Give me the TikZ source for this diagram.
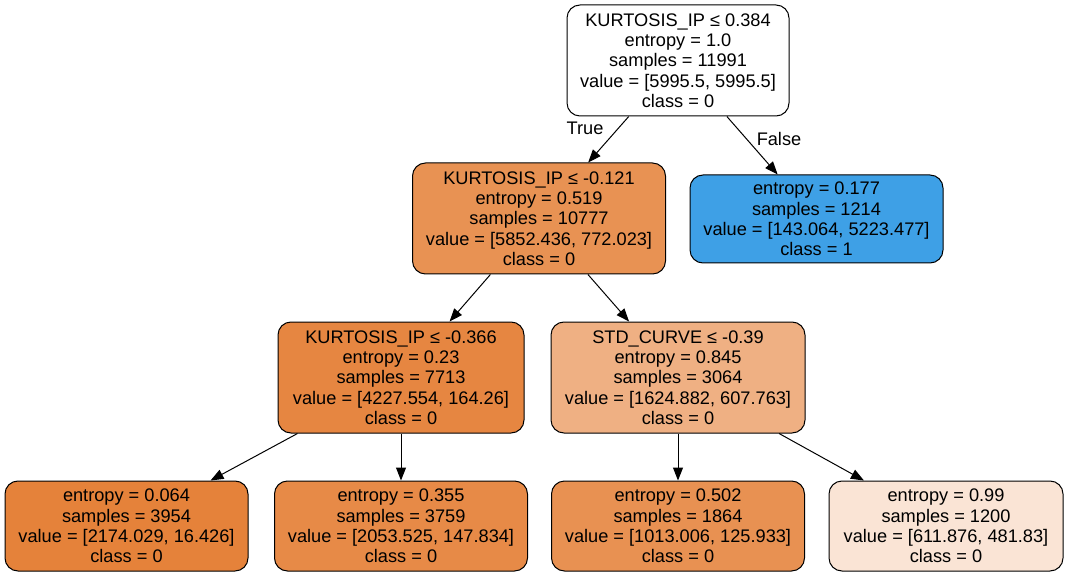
\documentclass[tikz,border=0pt]{standalone}
\usepackage{fontspec}
\setmainfont{Liberation Sans}
\usetikzlibrary{arrows.meta}
\definecolor{cRoot}{RGB}{255,255,255}
\definecolor{cA}{RGB}{232,146,83}
\definecolor{cB}{RGB}{62,160,230}
\definecolor{cC}{RGB}{230,134,65}
\definecolor{cD}{RGB}{239,176,131}
\definecolor{cE}{RGB}{229,130,58}
\definecolor{cF}{RGB}{231,138,71}
\definecolor{cG}{RGB}{232,145,82}
\definecolor{cH}{RGB}{250,228,213}
\tikzset{
  treenode/.style={draw=black, line width=1pt, rounded corners=13pt, align=center,
    inner sep=0pt, font=\fontsize{18.2}{20.3}\selectfont},
  split/.style={treenode, minimum height=111pt},
  leaf/.style={treenode, minimum height=90pt},
  edge/.style={line width=1pt, -{Triangle[length=13pt,width=10pt]}},
  elabel/.style={font=\fontsize{18.2}{20.3}\selectfont, inner sep=0pt}
}
\begin{document}
\begin{tikzpicture}[x=1pt,y=-1pt]
\useasboundingbox (0,0) rectangle (1068,577);
\node[split, fill=cRoot, minimum width=222pt] (n0) at (678,60.5)
  {KURTOSIS\_IP ≤ 0.384\\entropy = 1.0\\samples = 11991\\value = [5995.5, 5995.5]\\class = 0};
\node[split, fill=cA, minimum width=253pt] (n1) at (539,218.5)
  {KURTOSIS\_IP ≤ -0.121\\entropy = 0.519\\samples = 10777\\value = [5852.436, 772.023]\\class = 0};
\node[leaf, fill=cB, minimum width=253pt, minimum height=88pt] (n2) at (816.5,219)
  {entropy = 0.177\\samples = 1214\\value = [143.064, 5223.477]\\class = 1};
\node[split, fill=cC, minimum width=246pt] (n3) at (401,377.5)
  {KURTOSIS\_IP ≤ -0.366\\entropy = 0.23\\samples = 7713\\value = [4227.554, 164.26]\\class = 0};
\node[split, fill=cD, minimum width=254pt] (n4) at (678,377.5)
  {STD\_CURVE ≤ -0.39\\entropy = 0.845\\samples = 3064\\value = [1624.882, 607.763]\\class = 0};
\node[leaf, fill=cE, minimum width=243pt] (n5) at (126.5,526)
  {entropy = 0.064\\samples = 3954\\value = [2174.029, 16.426]\\class = 0};
\node[leaf, fill=cF, minimum width=253pt] (n6) at (401,526)
  {entropy = 0.355\\samples = 3759\\value = [2053.525, 147.834]\\class = 0};
\node[leaf, fill=cG, minimum width=253pt] (n7) at (678,526)
  {entropy = 0.502\\samples = 1864\\value = [1013.006, 125.933]\\class = 0};
\node[leaf, fill=cH, minimum width=234pt] (n8) at (946,526)
  {entropy = 0.99\\samples = 1200\\value = [611.876, 481.83]\\class = 0};
\draw[edge] (n0) -- (n1);
\draw[edge] (n0) -- (n2);
\draw[edge] (n1) -- (n3);
\draw[edge] (n1) -- (n4);
\draw[edge] (n3) -- (n5);
\draw[edge] (n3) -- (n6);
\draw[edge] (n4) -- (n7);
\draw[edge] (n4) -- (n8);
\node[elabel] (ltrue) at (585,128) {True};
\node[elabel] (lfalse) at (779,139) {False};
\end{tikzpicture}
\end{document}
